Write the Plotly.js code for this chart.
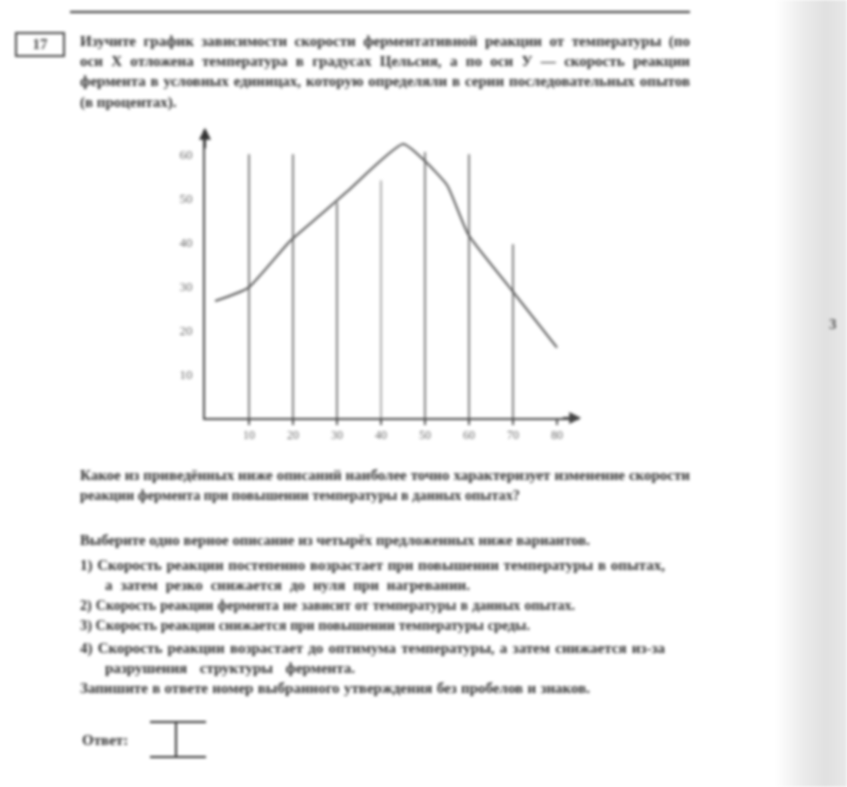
<!DOCTYPE html>
<html>
<head>
<meta charset="utf-8">
<script src="https://cdn.plot.ly/plotly-3.0.1.min.js"></script>
<style>
  html,body{margin:0;padding:0;width:847px;height:787px;overflow:hidden;background:#fff;}
  #page{position:absolute;left:0;top:0;width:847px;height:787px;filter:blur(1.7px);}
  #shade{position:absolute;left:775px;top:0;width:72px;height:787px;
    background:linear-gradient(to right,#fff 0%,#ebebeb 40%,#e0e0e0 70%,#e8e8e8 100%);}
  #chart{position:absolute;left:0;top:0;width:847px;height:787px;}
  .ln{position:absolute;font-family:"Liberation Serif",serif;font-size:15px;font-weight:bold;color:#2e2e2e;
      white-space:nowrap;text-align:justify;text-align-last:justify;line-height:17px;}
  .lft{text-align-last:left;}
  .hr{position:absolute;background:#333;}
</style>
</head>
<body>
<div id="page">
  <div id="shade"></div>
  <div class="hr" style="left:70px;top:11px;width:620px;height:2px;"></div>
  <div style="position:absolute;left:15px;top:32px;width:46px;height:21px;border:2px solid #444;
       font-family:'Liberation Serif',serif;font-size:15px;font-weight:bold;color:#444;text-align:center;line-height:21px;">17</div>

  <div class="ln" style="left:80px;top:33px;width:610px;">Изучите график зависимости скорости ферментативной реакции от температуры (по</div>
  <div class="ln" style="left:80px;top:53px;width:610px;">оси Х отложена температура в градусах Цельсия, а по оси У — скорость реакции</div>
  <div class="ln" style="left:80px;top:73px;width:610px;">фермента в условных единицах, которую определяли в серии последовательных опытов</div>
  <div class="ln lft" style="left:80px;top:94px;width:130px;">(в процентах).</div>

  <div class="ln" style="left:80px;top:467px;width:610px;">Какое из приведённых ниже описаний наиболее точно характеризует изменение скорости</div>
  <div class="ln" style="left:80px;top:487px;width:440px;">реакции фермента при повышении температуры в данных опытах?</div>
  <div class="ln" style="left:80px;top:532px;width:510px;">Выберите одно верное описание из четырёх предложенных ниже вариантов.</div>
  <div class="ln" style="left:80px;top:557px;width:585px;">1) Скорость реакции постепенно возрастает при повышении температуры в опытах,</div>
  <div class="ln" style="left:105px;top:577px;width:365px;">а затем резко снижается до нуля при нагревании.</div>
  <div class="ln" style="left:80px;top:597px;width:495px;">2) Скорость реакции фермента не зависит от температуры в данных опытах.</div>
  <div class="ln" style="left:80px;top:617px;width:450px;">3) Скорость реакции снижается при повышении температуры среды.</div>
  <div class="ln" style="left:80px;top:640px;width:585px;">4) Скорость реакции возрастает до оптимума температуры, а затем снижается из-за</div>
  <div class="ln" style="left:105px;top:660px;width:250px;">разрушения структуры фермента.</div>
  <div class="ln" style="left:80px;top:680px;width:510px;">Запишите в ответе номер выбранного утверждения без пробелов и знаков.</div>

  <div class="ln lft" style="left:82px;top:732px;width:52px;">Ответ:</div>
  <div class="hr" style="left:150px;top:721px;width:56px;height:2px;"></div>
  <div class="hr" style="left:150px;top:756px;width:56px;height:2px;"></div>
  <div class="hr" style="left:175px;top:722px;width:2px;height:35px;"></div>

  <div style="position:absolute;left:829px;top:316px;font-family:'Liberation Serif',serif;font-size:15px;font-weight:bold;color:#555;">3</div>

  <div id="chart"></div>
</div>
<script>
// shrink any text line that does not fit its box
document.querySelectorAll('.ln').forEach(function (el) {
  var fs = 15;
  while (el.scrollWidth > el.clientWidth + 1 && fs > 9) {
    fs -= 0.25;
    el.style.fontSize = fs + 'px';
  }
});

// data
var xTickVals   = [1, 2, 3, 4, 5, 6, 7, 8];
var xTickLabels = ["10", "20", "30", "40", "50", "60", "70", "80"];
var yTickVals   = [1, 2, 3, 4, 5, 6];
var yTickLabels = ["10", "20", "30", "40", "50", "60"];

var curveX = [0.23, 0.98, 1.93, 2.6, 3.23, 4.5, 4.95, 5.5, 5.98, 6.93, 8.0];
var curveY = [2.66, 2.96, 4.02, 4.6, 5.15, 6.23, 5.89, 5.30, 4.18, 2.96, 1.6];

var vlineX      = [1, 2, 3, 4, 5, 6, 7];
var vlineTop    = [6.0, 6.0, 4.9, 5.4, 6.05, 6.0, 3.95];
var vlineBottom = [0, -0.45, 0, 0, 0, -0.45, 0];

var traces = [];
for (var i = 0; i < vlineX.length; i++) {
  traces.push({
    x: [vlineX[i], vlineX[i]], y: [vlineBottom[i], vlineTop[i]],
    mode: 'lines', type: 'scatter', hoverinfo: 'skip', cliponaxis: false,
    line: {color: i === 3 ? '#8a8a8a' : '#4a4a4a', width: 1.4}
  });
}
traces.push({
  x: curveX, y: curveY, mode: 'lines', type: 'scatter', cliponaxis: false,
  line: {color: '#555', width: 2, shape: 'spline', smoothing: 0.5}
});

var layout = {
  width: 847, height: 787,
  margin: {l: 205, r: 268, t: 130, b: 369},
  paper_bgcolor: 'rgba(0,0,0,0)', plot_bgcolor: 'rgba(0,0,0,0)',
  showlegend: false,
  font: {family: 'Liberation Serif, serif', size: 12, color: '#666'},
  xaxis: {
    range: [0, 8.5], tickvals: xTickVals, ticktext: xTickLabels,
    showgrid: false, zeroline: false, showline: true, linecolor: '#444', linewidth: 2,
    ticks: 'outside', ticklen: 5, tickcolor: '#555', tickwidth: 1.5,
    tickfont: {size: 12, color: '#6a6a6a'}
  },
  yaxis: {
    range: [0, 6.55], tickvals: yTickVals, ticktext: yTickLabels,
    showgrid: false, zeroline: false, showline: true, linecolor: '#444', linewidth: 2,
    ticks: '', tickfont: {size: 13, color: '#6a6a6a'}, ticklabelstandoff: 8
  },
  annotations: [
    {x: 0, y: 6.6, xref: 'x', yref: 'y', ax: 0, ay: 6.1, axref: 'x', ayref: 'y',
     showarrow: true, arrowhead: 2, arrowsize: 1.2, arrowwidth: 2, arrowcolor: '#333', text: ''},
    {x: 8.55, y: 0, xref: 'x', yref: 'y', ax: 8.1, ay: 0, axref: 'x', ayref: 'y',
     showarrow: true, arrowhead: 2, arrowsize: 1.2, arrowwidth: 2, arrowcolor: '#444', text: ''},
    {x: -0.55, y: 6.75, xref: 'x', yref: 'y', text: 'v', showarrow: false,
     font: {size: 12, color: '#888'}},
    {x: 8.3, y: -0.4, xref: 'x', yref: 'y', text: 't, °C', showarrow: false,
     font: {size: 11, color: '#999'}}
  ]
};
Plotly.newPlot('chart', traces, layout, {staticPlot: true, displayModeBar: false});
</script>
</body>
</html>
